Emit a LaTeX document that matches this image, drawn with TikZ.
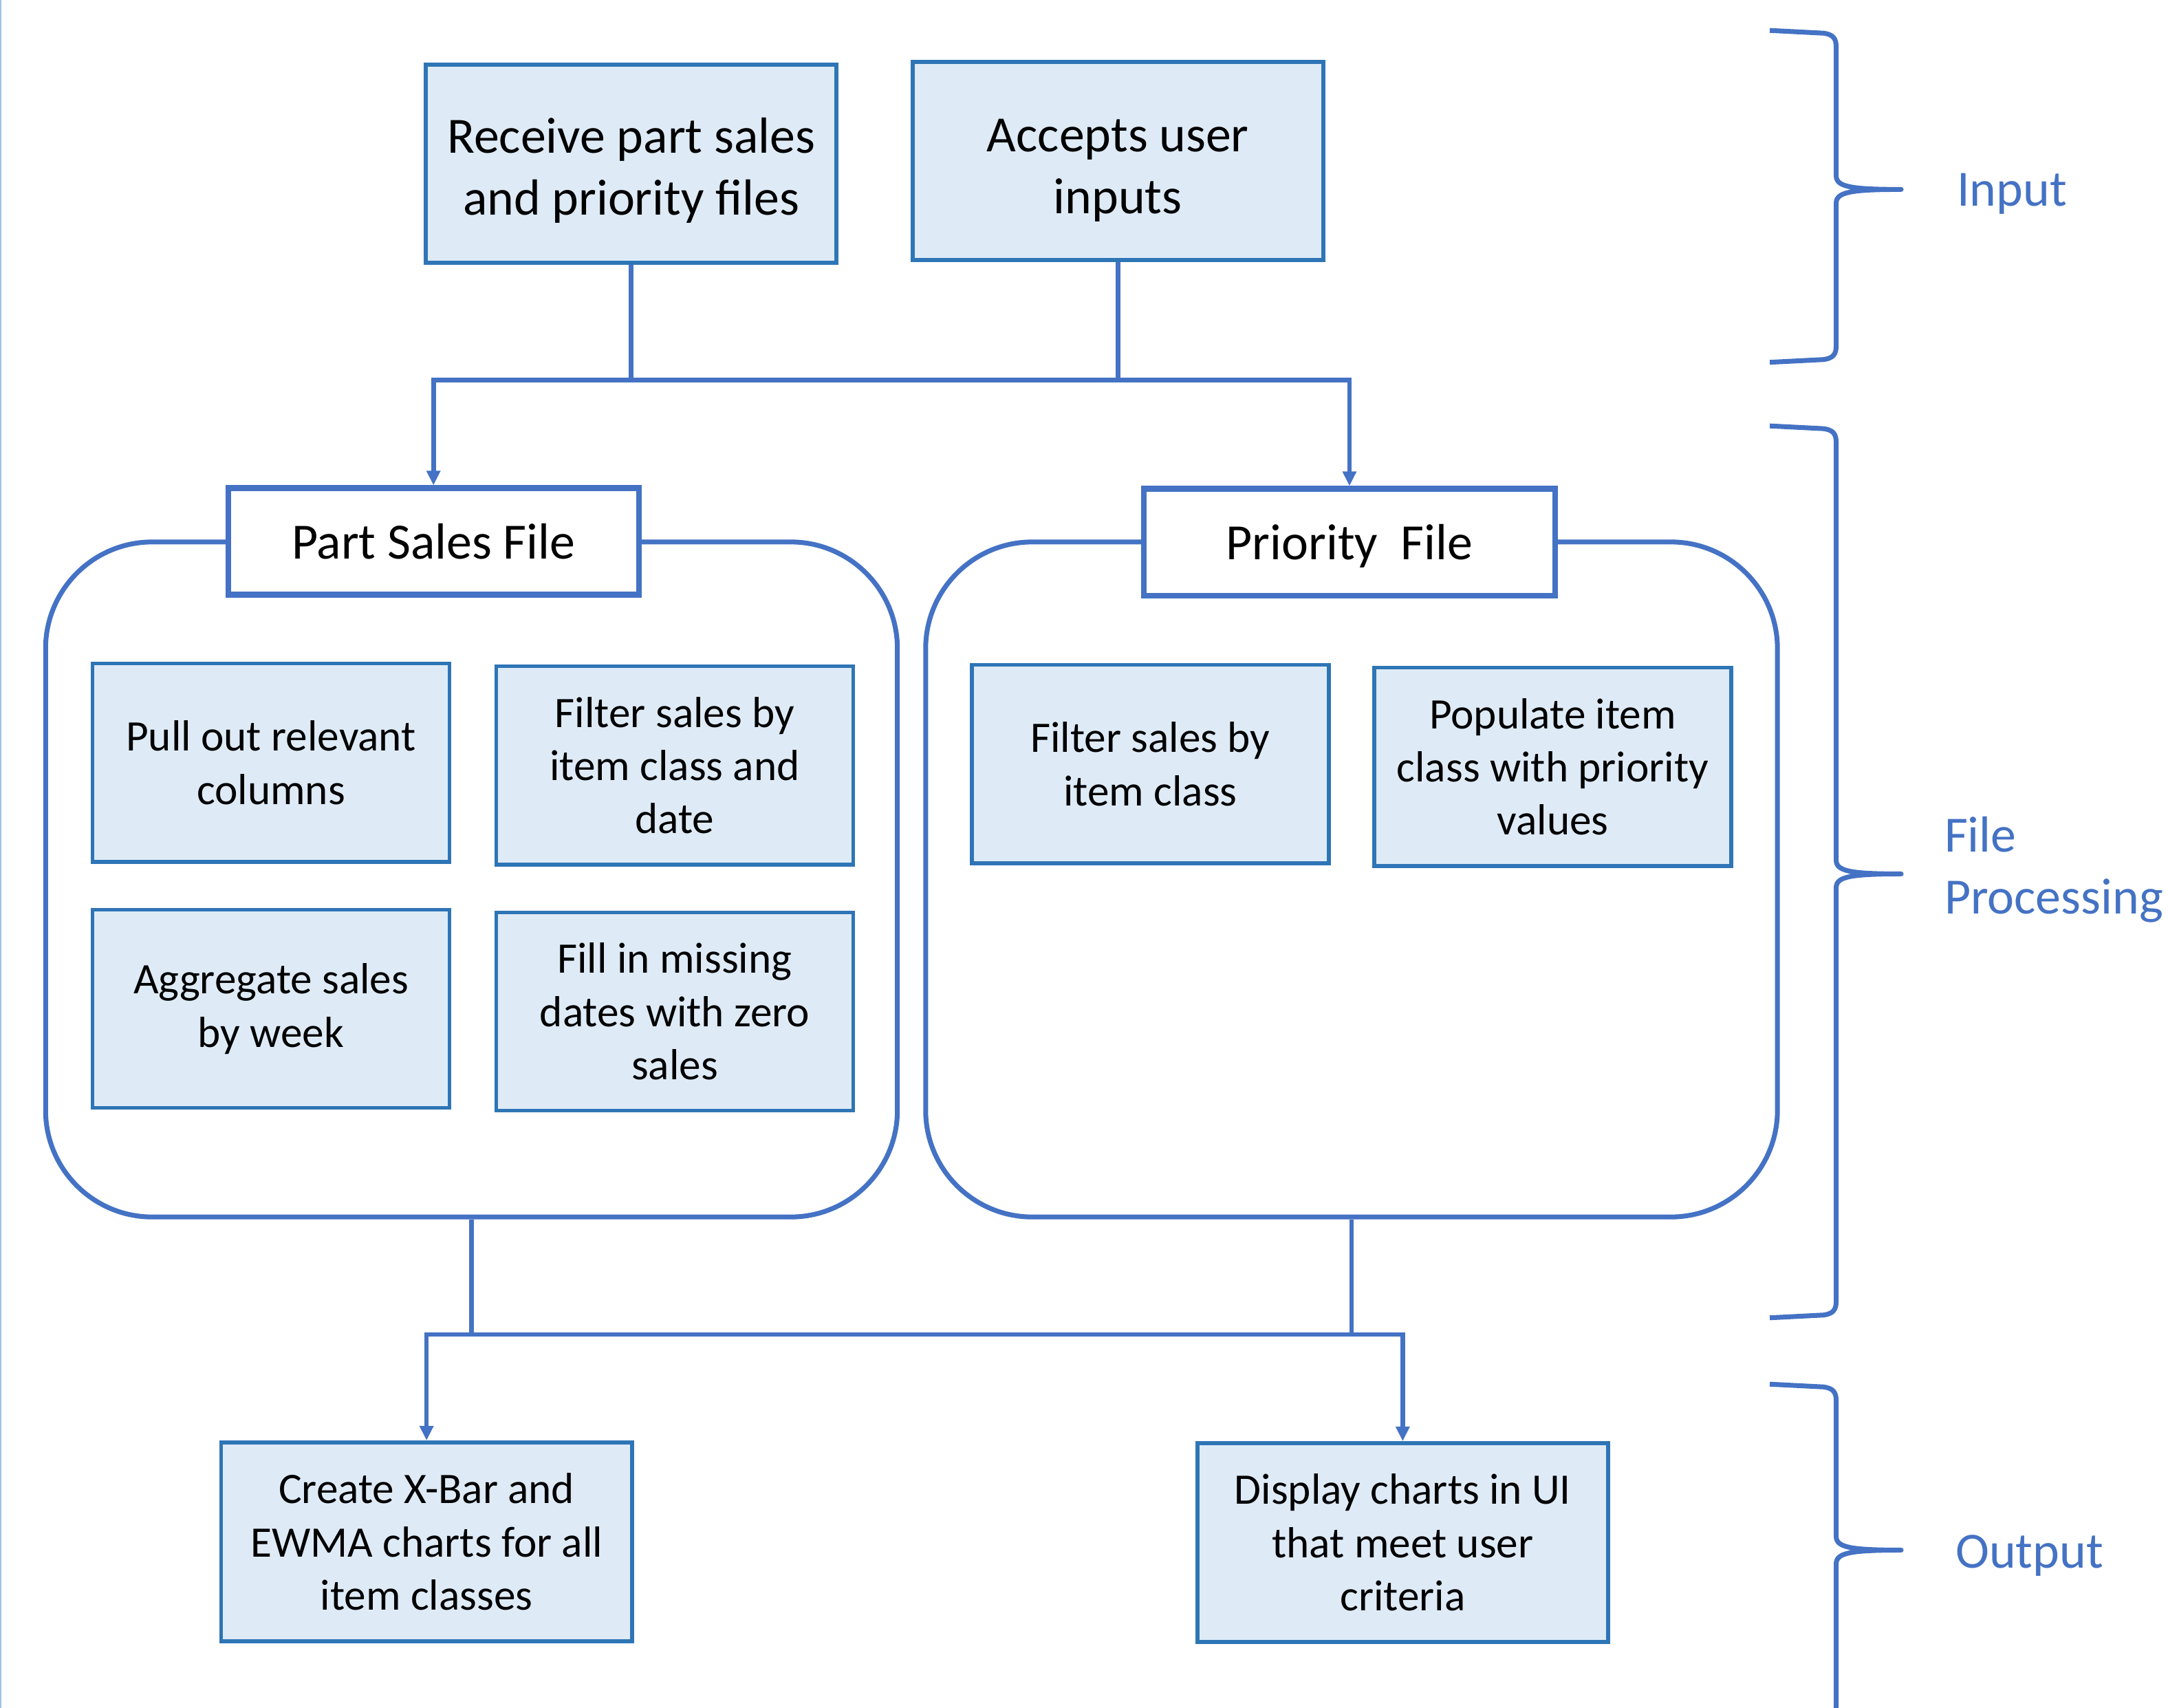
\documentclass[tikz,border=0pt]{standalone}
\usepackage{fontspec}
\setmainfont{Carlito}
\usetikzlibrary{arrows.meta}

\definecolor{boxblue}{HTML}{2E75B6}
\definecolor{lineblue}{HTML}{4472C4}
\definecolor{boxfill}{HTML}{DEEBF7}
\definecolor{edgeblue}{HTML}{9DC3E6}

\begin{document}
\begin{tikzpicture}[x=0.020102cm,y=-0.020102cm]
  \tikzstyle{task}=[rectangle,draw=boxblue,fill=boxfill,line width=1.7pt,minimum width=5.97cm,minimum height=2.88cm,align=center,font=\fontsize{21}{25.6}\selectfont]
  \tikzstyle{subtask}=[rectangle,draw=boxblue,fill=boxfill,line width=1.6pt,minimum width=5.19cm,minimum height=2.88cm,align=center,font=\fontsize{18}{22}\selectfont]
  \tikzstyle{outtask}=[subtask,minimum width=5.97cm,minimum height=2.89cm]
  \tikzstyle{header}=[rectangle,draw=lineblue,fill=white,line width=2.3pt,minimum width=5.97cm,minimum height=1.55cm,text depth=0pt,font=\fontsize{21}{25.6}\selectfont]
  \tikzstyle{group}=[rectangle,draw=lineblue,line width=2pt,rounded corners=1.55cm,minimum width=12.38cm,minimum height=9.81cm]
  \tikzstyle{link}=[draw=lineblue,line width=1.9pt]
  \tikzstyle{brace}=[draw=lineblue,line width=2pt,line join=round]
  \tikzstyle{phase}=[anchor=west,inner sep=0pt,text=lineblue,align=left,font=\fontsize{21}{25.6}\selectfont]

  \clip (0,0) rectangle (1568,1235);
  \draw[edgeblue,line width=0.6pt] (0.6,0) -- (0.6,1235);

  % input
  \node[task] (recv) at (456.5,118.5) {\rule{0pt}{20pt}Receive part sales\\and priority files};
  \node[task] (accept) at (808.5,116.5) {\rule{0pt}{21pt}Accepts user\\inputs};

  % file processing
  \node[group] (psc) at (341,636) {};
  \node[group] (prc) at (977.5,636) {};
  \node[header] (psf) at (313.5,391.5) {Part Sales File};
  \node[header] (prf) at (976,392) {Priority\ \ File};

  \node[subtask] (pull) at (196,551.5) {Pull out relevant\\columns};
  \node[subtask] (filt) at (488,553.5) {Filter sales by\\item class and\\date};
  \node[subtask] (aggr) at (196,729.5) {Aggregate sales\\by week};
  \node[subtask] (fill) at (488,731.5) {Fill in missing\\dates with zero\\sales};
  \node[subtask] (pfilt) at (832,552.5) {Filter sales by\\item class};
  \node[subtask] (popu) at (1123,554.5) {Populate item\\class with priority\\values};

  % output
  \node[outtask] (xbar) at (308.5,1115) {Create X-Bar and\\EWMA charts for all\\item classes};
  \node[outtask] (disp) at (1014.5,1115.5) {Display charts in UI\\that meet user\\criteria};

  \coordinate (jtop) at (0,275);
  \coordinate (jbot) at (0,965);

  \draw[link] (recv.south) -- (recv.south |- jtop);
  \draw[link] (accept.south) -- (accept.south |- jtop);
  \draw[link,{Triangle[width=5.5pt,length=6pt]}-{Triangle[width=5.5pt,length=6pt]}] (psf.north) -- (psf.north |- jtop) -- (prf.north |- jtop) -- (prf.north);

  \draw[link] (psc.south) -- (psc.south |- jbot);
  \draw[link] (prc.south) -- (prc.south |- jbot);
  \draw[link,{Triangle[width=5.5pt,length=6pt]}-{Triangle[width=5.5pt,length=6pt]}] (xbar.north) -- (xbar.north |- jbot) -- (disp.north |- jbot) -- (disp.north);

  % braces
  \foreach \t/\m/\b in {22/137/262,308/632/953,1001/1121/1245}
    \draw[brace] (1280,\t) -- (1319,\t+2) .. controls (1326,\t+3) and (1328,\t+6) .. (1328,\t+12)
      -- (1328,\m-10) .. controls (1328,\m-2) and (1338,\m) .. (1375,\m)
      .. controls (1338,\m) and (1328,\m+2) .. (1328,\m+10)
      -- (1328,\b-12) .. controls (1328,\b-6) and (1326,\b-3) .. (1319,\b-2) -- (1280,\b);

  \node[phase] (inp) at (1415,140) {Input};
  \node[phase] (proc) at (1406,629) {File\\Processing};
  \node[phase] (outp) at (1414,1125) {Output};
\end{tikzpicture}
\end{document}
